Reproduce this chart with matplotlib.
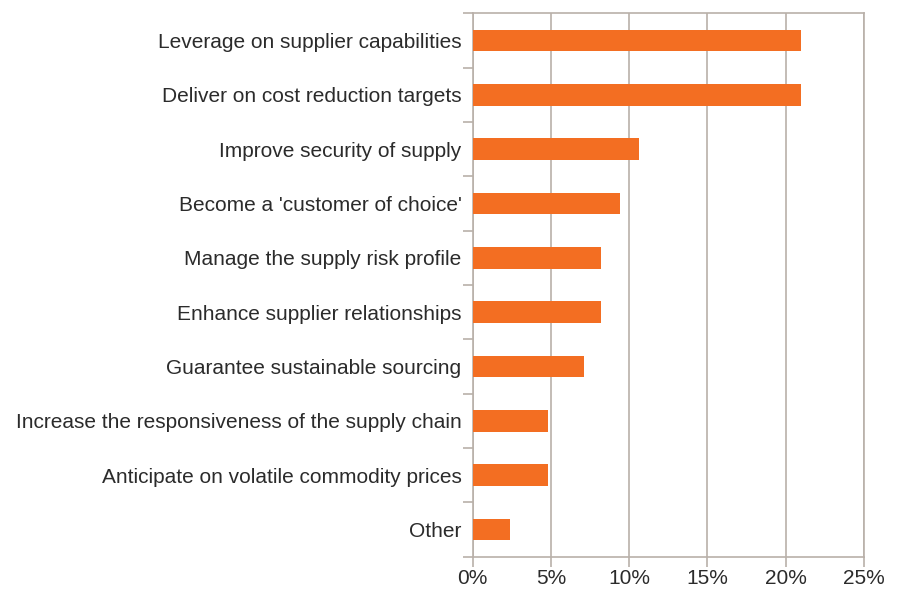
import matplotlib.pyplot as plt
import numpy as np

categories = [
    "Leverage on supplier capabilities",
    "Deliver on cost reduction targets",
    "Improve security of supply",
    "Become a 'customer of choice'",
    "Manage the supply risk profile",
    "Enhance supplier relationships",
    "Guarantee sustainable sourcing",
    "Increase the responsiveness of the supply chain",
    "Anticipate on volatile commodity prices",
    "Other",
]
values = [21.0, 21.0, 10.6, 9.4, 8.2, 8.2, 7.1, 4.8, 4.8, 2.4]
xticks = [0, 5, 10, 15, 20, 25]
xtick_labels = ["0%", "5%", "10%", "15%", "20%", "25%"]

orange = "#F36E22"
grey = "#B9B0A9"
text_color = "#2B2B2B"

plt.rcParams["font.family"] = ["Liberation Sans", "DejaVu Sans"]

fig = plt.figure(figsize=(9.01, 5.89), dpi=100)
ax = fig.add_axes([472.7 / 901, 1 - 556.7 / 589, (864 - 472.7) / 901, (556.7 - 13.3) / 589])

y = np.arange(len(categories))
ax.barh(y, values, height=0.4, color=orange, zorder=3)

ax.set_xlim(0, 25)
ax.set_ylim(len(categories) - 0.5, -0.5)
ax.set_xticks(xticks)
ax.set_xticklabels(xtick_labels)
ax.set_yticks(y)
ax.set_yticklabels(categories)
ax.set_yticks(np.arange(len(categories) + 1) - 0.5, minor=True)

ax.grid(axis="x", color=grey, linewidth=1.2, zorder=1)
for s in ax.spines.values():
    s.set_color(grey)
    s.set_linewidth(1.2)

ax.tick_params(axis="y", which="major", length=0, pad=8, labelsize=15, labelcolor=text_color)
ax.tick_params(axis="y", which="minor", length=7, width=1.2, color=grey)
ax.tick_params(axis="x", which="major", length=7, width=1.2, color=grey, pad=2,
               labelsize=15, labelcolor=text_color)

fig.savefig("out.png", dpi=100)
